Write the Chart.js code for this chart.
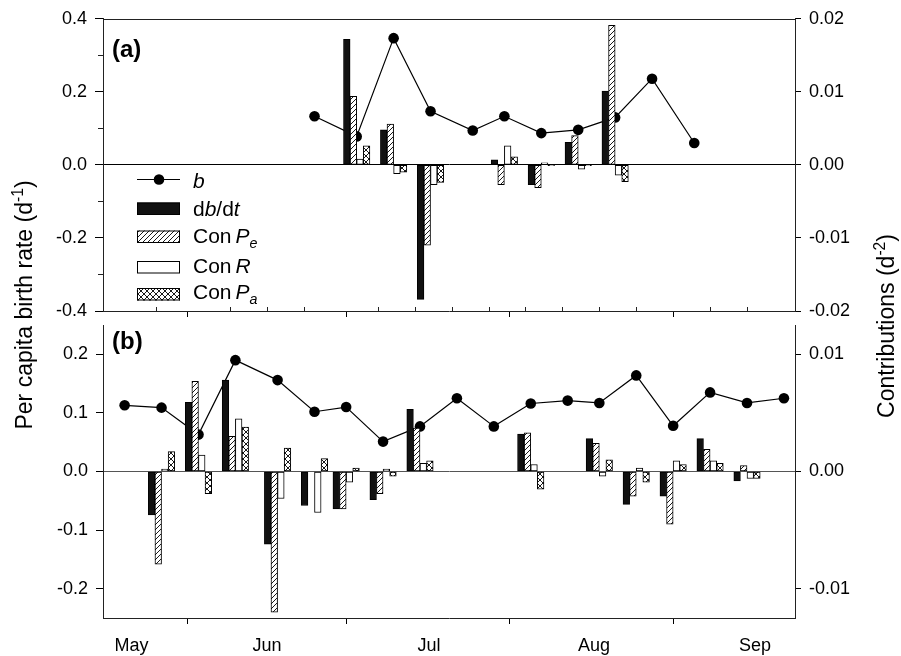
<!DOCTYPE html>
<html>
<head>
<meta charset="utf-8">
<script src="https://cdn.jsdelivr.net/npm/chart.js@4.4.1/dist/chart.umd.min.js"></script>
<style>
  html, body { margin: 0; padding: 0; background: #fff; }
  #wrap { position: relative; width: 901px; height: 656px; }
  #wrap canvas { position: absolute; left: 0; top: 0; }
</style>
</head>
<body>
<div id="wrap">
  <canvas id="chartA" width="901" height="656"></canvas>
  <canvas id="chartB" width="901" height="656"></canvas>
</div>
<script>
// sampling days, counted from 1 May (1 May = 0)
const daysA = [55, 63, 70, 77, 85, 91, 98, 105, 112, 119, 127]
const birthA = [0.133, 0.078, 0.347, 0.147, 0.094, 0.133, 0.087, 0.096, 0.130, 0.236, 0.060]
const dbdtA = [null, 0.0172, 0.0048, -0.0184, null, 0.0007, -0.0027, 0.0031, 0.0101, null, null]
const conPeA = [null, 0.0094, 0.0056, -0.0110, null, -0.0027, -0.0031, 0.0040, 0.0191, null, null]
const conRA = [null, 0.0008, -0.0012, -0.0027, null, 0.0026, 0.0003, -0.0006, -0.0014, null, null]
const conPaA = [null, 0.0026, -0.0010, -0.0024, null, 0.0011, -0.0001, -0.0001, -0.0023, null, null]

const daysB = [19, 26, 33, 40, 48, 55, 61, 68, 75, 82, 89, 96, 103, 109, 116, 123, 130, 137, 144]
const birthB = [0.113, 0.109, 0.063, 0.190, 0.156, 0.102, 0.110, 0.051, 0.077, 0.125, 0.077, 0.116, 0.121, 0.117, 0.164, 0.078, 0.135, 0.117, 0.125]
const dbdtB = [null, -0.0037, 0.0059, 0.0078, -0.0062, -0.0029, -0.0032, -0.0024, 0.0053, null, null, 0.0032, null, 0.0028, -0.0028, -0.0021, 0.0028, -0.0008, null]
const conPeB = [null, -0.0079, 0.0077, 0.0030, -0.0120, 0, -0.0032, -0.0019, 0.0037, null, null, 0.0033, null, 0.0024, -0.0021, -0.0045, 0.0019, 0.0005, null]
const conRB = [null, 0.0002, 0.0014, 0.0045, -0.0023, -0.0035, -0.0009, 0.0002, 0.0007, null, null, 0.0006, null, -0.0004, 0.0003, 0.0009, 0.0009, -0.0006, null]
const conPaB = [null, 0.0017, -0.0019, 0.0038, 0.0020, 0.0011, 0.0003, -0.0004, 0.0009, null, null, -0.0015, null, 0.0010, -0.0009, 0.0006, 0.0007, -0.0006, null]

const monthStarts = [31, 61, 92, 123]
const monthNames = ['May', 'Jun', 'Jul', 'Aug', 'Sep']
const monthLabelDays = [20.3, 46, 76.7, 108, 138.5]
const weekTicks = [25, 39, 46, 53, 67, 74, 81, 88, 95, 102, 109, 116, 130, 137]

const leftTicksA = [-0.4, -0.2, 0, 0.2, 0.4]
const leftMinorA = [-0.3, -0.1, 0.1, 0.3]
const rightTicksA = [-0.02, -0.01, 0, 0.01, 0.02]
const leftTicksB = [-0.2, -0.1, 0, 0.1, 0.2]
const rightTicksB = [-0.01, 0, 0.01]

const FONT = "'Liberation Sans', Arial, Helvetica, sans-serif"
const tickFont = { family: FONT, size: 18 }

function toPoints(days, values) {
  return days.map((d, i) => ({ x: d, y: values[i] }))
}

function makePattern(ctx, s, cross) {
  const c = document.createElement('canvas')
  c.width = s
  c.height = s
  const g = c.getContext('2d')
  g.fillStyle = '#fff'
  g.fillRect(0, 0, s, s)
  g.strokeStyle = '#000'
  g.lineWidth = 0.9
  g.beginPath()
  g.moveTo(0, s); g.lineTo(s, 0)
  g.moveTo(-1, 1); g.lineTo(1, -1)
  g.moveTo(s - 1, s + 1); g.lineTo(s + 1, s - 1)
  if (cross) {
    g.moveTo(0, 0); g.lineTo(s, s)
    g.moveTo(s - 1, -1); g.lineTo(s + 1, 1)
    g.moveTo(-1, s - 1); g.lineTo(1, s + 1)
  }
  g.stroke()
  return ctx.createPattern(c, 'repeat')
}

// draws text made of pieces (italic, sub, sup); returns width
function richText(ctx, parts, x, y, size, measureOnly) {
  let cx = x
  for (const p of parts) {
    if (p.gap) { cx += p.gap; continue }
    const small = p.sup || p.sub
    const fs = small ? size * 0.68 : size
    ctx.font = (p.italic ? 'italic ' : '') + (p.bold ? 'bold ' : '') + fs + 'px ' + FONT
    const dy = p.sup ? -size * 0.4 : p.sub ? size * 0.25 : 0
    if (!measureOnly) ctx.fillText(p.t, cx, y + dy)
    cx += ctx.measureText(p.t).width
  }
  return cx - x
}

const ctxA = document.getElementById('chartA').getContext('2d')
const ctxB = document.getElementById('chartB').getContext('2d')
const hatchA = makePattern(ctxA, 5, false)
const crossA = makePattern(ctxA, 6, true)
const hatchB = makePattern(ctxB, 5, false)
const crossB = makePattern(ctxB, 6, true)

function barSet(label, days, values, fill) {
  return {
    label: label,
    data: toPoints(days, values),
    yAxisID: 'y1',
    backgroundColor: fill,
    borderColor: '#000',
    borderWidth: 1,
    borderSkipped: false,
    barThickness: 6.6,
    order: 0
  }
}

function lineSet(days, values) {
  return {
    type: 'line',
    label: 'b',
    data: toPoints(days, values),
    yAxisID: 'y',
    borderColor: '#000',
    borderWidth: 1.2,
    pointRadius: 5.3,
    pointBackgroundColor: '#000',
    pointBorderColor: '#000',
    pointBorderWidth: 0,
    tension: 0,
    order: 1
  }
}

function yScale(pos, min, max, ticks, digits, zeroColor, tickLen, width) {
  return {
    position: pos,
    min: min,
    max: max,
    afterBuildTicks: s => { s.ticks = ticks.map(v => ({ value: v })) },
    afterFit: s => { s.width = width },
    ticks: { callback: v => v.toFixed(digits), font: tickFont, color: '#000', padding: 8 },
    grid: {
      drawOnChartArea: zeroColor !== null,
      color: ctx => (ctx.tick && ctx.tick.value === 0 && zeroColor) ? zeroColor : 'rgba(0,0,0,0)',
      tickColor: '#000',
      tickLength: tickLen
    },
    border: { display: true, color: '#222', width: 1 }
  }
}

const panelA = {
  id: 'panelA',
  afterDraw(chart) {
    const ctx = chart.ctx
    const area = chart.chartArea
    const xs = chart.scales.x
    const ys = chart.scales.y
    ctx.save()
    ctx.strokeStyle = '#222'
    ctx.lineWidth = 1
    ctx.beginPath()
    ctx.moveTo(area.left, Math.round(area.top) + 0.5)
    ctx.lineTo(area.right, Math.round(area.top) + 0.5)
    for (const d of weekTicks) {
      const px = Math.round(xs.getPixelForValue(d)) + 0.5
      ctx.moveTo(px, area.bottom)
      ctx.lineTo(px, area.bottom - 4)
    }
    for (const v of leftMinorA) {
      const py = Math.round(ys.getPixelForValue(v)) + 0.5
      ctx.moveTo(area.left - 5, py)
      ctx.lineTo(area.left, py)
    }
    ctx.stroke()

    ctx.fillStyle = '#000'
    ctx.textBaseline = 'alphabetic'
    richText(ctx, [{ t: '(a)', bold: true }], 112, 57, 24)

    // legend
    const sx = 137, ex = 180, tx = 193, fs = 21
    ctx.beginPath()
    ctx.moveTo(sx, 179.5); ctx.lineTo(ex, 179.5)
    ctx.strokeStyle = '#000'
    ctx.lineWidth = 1.2
    ctx.stroke()
    ctx.beginPath()
    ctx.arc(159, 179.5, 5.3, 0, Math.PI * 2)
    ctx.fill()
    const boxes = [[202.5, '#111'], [230.5, hatchA], [261, '#fff'], [288, crossA]]
    ctx.lineWidth = 1
    for (const [top, fill] of boxes) {
      ctx.fillStyle = fill
      ctx.fillRect(sx, top, ex - sx, 12.5)
      ctx.strokeRect(sx + 0.5, top + 0.5, ex - sx - 1, 11.5)
    }
    ctx.fillStyle = '#000'
    const rows = [
      [180, [{ t: 'b', italic: true }]],
      [208.5, [{ t: 'd' }, { t: 'b', italic: true }, { t: '/d' }, { t: 't', italic: true }]],
      [235.5, [{ t: 'Con' }, { gap: 4 }, { t: 'P', italic: true }, { t: 'e', italic: true, sub: true }]],
      [265.5, [{ t: 'Con' }, { gap: 4 }, { t: 'R', italic: true }]],
      [291, [{ t: 'Con' }, { gap: 4 }, { t: 'P', italic: true }, { t: 'a', italic: true, sub: true }]]
    ]
    for (const [cy, parts] of rows) {
      richText(ctx, parts, tx, cy + fs * 0.36, fs)
    }
    ctx.restore()
  }
}

const panelB = {
  id: 'panelB',
  afterDraw(chart) {
    const ctx = chart.ctx
    ctx.save()
    ctx.fillStyle = '#000'
    richText(ctx, [{ t: '(b)', bold: true }], 112, 349, 24)

    const fs = 23
    const titles = [
      [24, 305, [{ t: 'Per capita birth rate (d' }, { t: '-1', sup: true }, { t: ')' }]],
      [886, 326, [{ t: 'Contributions (d' }, { t: '-2', sup: true }, { t: ')' }]]
    ]
    for (const [cx, cy, parts] of titles) {
      const w = richText(ctx, parts, 0, 0, fs, true)
      ctx.save()
      ctx.translate(cx, cy)
      ctx.rotate(-Math.PI / 2)
      richText(ctx, parts, -w / 2, fs * 0.36, fs)
      ctx.restore()
    }
    ctx.restore()
  }
}

const xMin = 14.9
const xMax = 146.1

new Chart(ctxA, {
  type: 'bar',
  data: {
    datasets: [
      lineSet(daysA, birthA),
      barSet('db/dt', daysA, dbdtA, '#111'),
      barSet('ConPe', daysA, conPeA, hatchA),
      barSet('ConR', daysA, conRA, '#fff'),
      barSet('ConPa', daysA, conPaA, crossA)
    ]
  },
  options: {
    responsive: false,
    animation: false,
    layout: { padding: { left: 0, right: 0, top: 18, bottom: 325 } },
    plugins: { legend: { display: false }, tooltip: { enabled: false } },
    scales: {
      x: {
        type: 'linear',
        min: xMin,
        max: xMax,
        offset: false,
        afterBuildTicks: s => { s.ticks = monthStarts.map(v => ({ value: v })) },
        afterFit: s => { s.height = 20 },
        ticks: { display: false },
        grid: { drawOnChartArea: false, offset: false, tickColor: '#000', tickLength: 6 },
        border: { display: true, color: '#222', width: 1 }
      },
      y: yScale('left', -0.4, 0.4, leftTicksA, 1, '#000', 8, 103),
      y1: yScale('right', -0.02, 0.02, rightTicksA, 2, null, 6, 106)
    }
  },
  plugins: [panelA]
})

const xTicksB = monthStarts.concat(monthLabelDays).sort((a, b) => a - b)

new Chart(ctxB, {
  type: 'bar',
  data: {
    datasets: [
      lineSet(daysB, birthB),
      barSet('db/dt', daysB, dbdtB, '#111'),
      barSet('ConPe', daysB, conPeB, hatchB),
      barSet('ConR', daysB, conRB, '#fff'),
      barSet('ConPa', daysB, conPaB, crossB)
    ]
  },
  options: {
    responsive: false,
    animation: false,
    layout: { padding: { left: 0, right: 0, top: 325, bottom: 0 } },
    plugins: { legend: { display: false }, tooltip: { enabled: false } },
    scales: {
      x: {
        type: 'linear',
        min: xMin,
        max: xMax,
        offset: false,
        afterBuildTicks: s => { s.ticks = xTicksB.map(v => ({ value: v })) },
        afterFit: s => { s.height = 38 },
        ticks: {
          autoSkip: false,
          maxRotation: 0,
          font: tickFont,
          color: '#000',
          padding: 11,
          callback: v => {
            const i = monthLabelDays.indexOf(v)
            return i >= 0 ? monthNames[i] : ''
          }
        },
        grid: {
          drawOnChartArea: false,
          offset: false,
          tickLength: 6,
          tickColor: ctx => (ctx.tick && monthStarts.includes(ctx.tick.value)) ? '#000' : 'rgba(0,0,0,0)'
        },
        border: { display: true, color: '#222', width: 1 }
      },
      y: yScale('left', -0.25, 0.25, leftTicksB, 1, '#555', 7, 103),
      y1: yScale('right', -0.0125, 0.0125, rightTicksB, 2, null, 6, 106)
    }
  },
  plugins: [panelB]
})
</script>
</body>
</html>
